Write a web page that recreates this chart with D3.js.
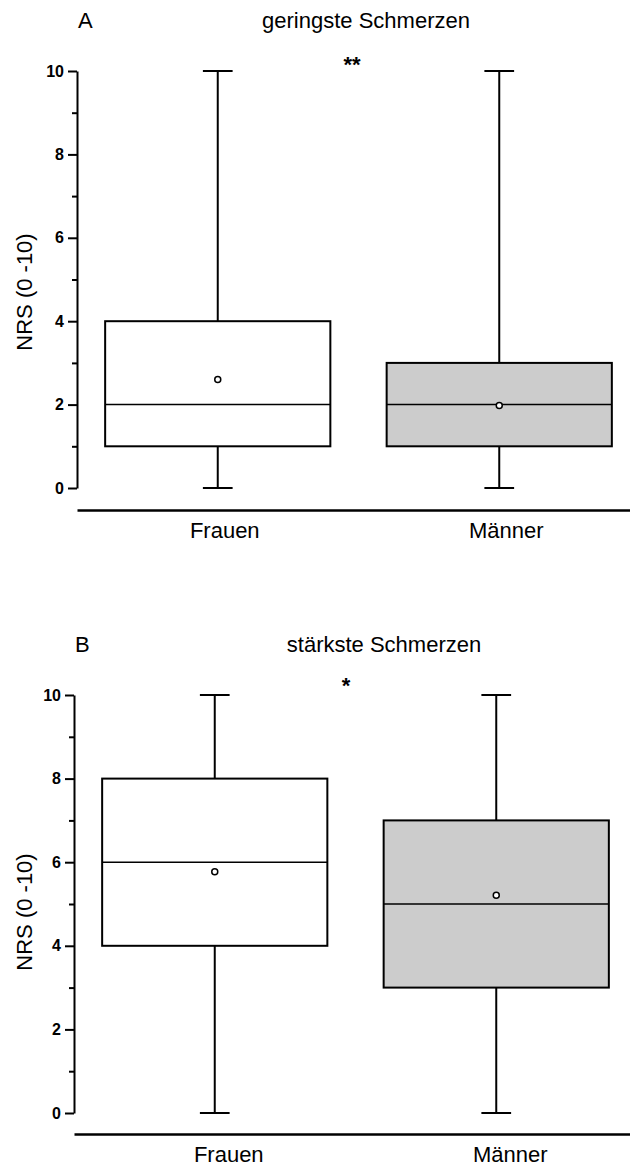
<!DOCTYPE html>
<html>
<head>
<meta charset="utf-8">
<script src="https://cdn.jsdelivr.net/npm/d3@7/dist/d3.min.js"></script>
<style>
  html, body { margin: 0; padding: 0; background: #fff; }
  svg { display: block; font-family: "Liberation Sans", Arial, sans-serif; }
</style>
</head>
<body>
<svg id="chart" width="630" height="1166"></svg>
<script>
// Groups on the x axis
const groups = ["Frauen", "Männer"];
const groupFill = ["#ffffff", "#cccccc"];

// Panel A: geringste Schmerzen (NRS 0-10)
const lowMin    = [0, 0];
const lowQ1     = [1, 1];
const lowMedian = [2, 2];
const lowQ3     = [4, 3];
const lowMax    = [10, 10];
const lowMean   = [2.6, 1.98];

// Panel B: stärkste Schmerzen (NRS 0-10)
const highMin    = [0, 0];
const highQ1     = [4, 3];
const highMedian = [6, 5];
const highQ3     = [8, 7];
const highMax    = [10, 10];
const highMean   = [5.77, 5.21];

// Axis ticks
const majorTicks = [0, 2, 4, 6, 8, 10];
const minorTicks = [1, 3, 5, 7, 9];
const yDomain = [0, 10];

const svg = d3.select("#chart");

function drawPanel(opt) {
  const stats = groups.map((g, i) => ({
    group: g, fill: groupFill[i],
    min: opt.min[i], q1: opt.q1[i], median: opt.median[i],
    q3: opt.q3[i], max: opt.max[i], mean: opt.mean[i]
  }));

  const x = d3.scaleBand()
    .domain(groups)
    .range([opt.axisX, opt.axisX + 563])
    .paddingInner(0.2)
    .paddingOuter(0.1);

  const y = d3.scaleLinear().domain(yDomain).range([opt.yBottom, opt.yTop]);

  const g = svg.append("g");

  // Panel letter and title
  g.append("text")
    .attr("x", opt.letterX).attr("y", opt.titleY)
    .attr("font-size", 22)
    .text(opt.letter);
  g.append("text")
    .attr("x", opt.titleX).attr("y", opt.titleY)
    .attr("text-anchor", "middle")
    .attr("font-size", 22)
    .text(opt.title);

  // Significance marker
  g.append("text")
    .attr("x", opt.starX).attr("y", opt.starY)
    .attr("text-anchor", "middle")
    .attr("font-size", 22)
    .attr("font-weight", "bold")
    .text(opt.stars);

  // Y axis: major ticks with labels
  const yAxis = g.append("g")
    .attr("transform", `translate(${opt.axisX},0)`)
    .call(d3.axisLeft(y).tickValues(majorTicks).tickSize(9).tickSizeOuter(0).tickPadding(4).tickFormat(d3.format("d")));
  yAxis.select(".domain").attr("stroke", "#000").attr("stroke-width", 2);
  yAxis.selectAll(".tick line").attr("stroke", "#000").attr("stroke-width", 2);
  yAxis.selectAll(".tick text")
    .attr("font-family", "'Liberation Sans', Arial, sans-serif")
    .attr("font-size", 16).attr("font-weight", "bold").attr("fill", "#000");

  // Y axis: minor ticks
  const yMinor = g.append("g")
    .attr("transform", `translate(${opt.axisX},0)`)
    .call(d3.axisLeft(y).tickValues(minorTicks).tickSize(5).tickSizeOuter(0).tickFormat(""));
  yMinor.select(".domain").remove();
  yMinor.selectAll(".tick line").attr("stroke", "#000").attr("stroke-width", 2);

  // Y axis title
  g.append("text")
    .attr("transform", `translate(${opt.yLabelX},${opt.yLabelY}) rotate(-90)`)
    .attr("text-anchor", "middle")
    .attr("font-size", 22)
    .text("NRS (0 -10)");

  // X axis: baseline below the plot with group labels
  const xAxis = g.append("g")
    .attr("transform", `translate(0,${opt.baseY})`)
    .call(d3.axisBottom(x).tickSize(0).tickSizeOuter(0).tickPadding(0));
  xAxis.select(".domain").attr("stroke", "#000").attr("stroke-width", 2.5);
  xAxis.selectAll(".tick text")
    .attr("font-family", "'Liberation Sans', Arial, sans-serif")
    .attr("font-size", 22).attr("fill", "#000")
    .attr("dy", null)
    .attr("y", 28)
    .attr("dx", opt.labelShift);

  // Boxes
  const bw = x.bandwidth();
  const capHalf = bw * 0.066;
  const box = g.selectAll("g.box").data(stats).join("g").attr("class", "box");

  // whisker stems
  box.append("line")
    .attr("x1", d => x(d.group) + bw / 2).attr("x2", d => x(d.group) + bw / 2)
    .attr("y1", d => y(d.max)).attr("y2", d => y(d.q3))
    .attr("stroke", "#000").attr("stroke-width", 2);
  box.append("line")
    .attr("x1", d => x(d.group) + bw / 2).attr("x2", d => x(d.group) + bw / 2)
    .attr("y1", d => y(d.q1)).attr("y2", d => y(d.min))
    .attr("stroke", "#000").attr("stroke-width", 2);
  // whisker caps
  box.append("line")
    .attr("x1", d => x(d.group) + bw / 2 - capHalf).attr("x2", d => x(d.group) + bw / 2 + capHalf)
    .attr("y1", d => y(d.max)).attr("y2", d => y(d.max))
    .attr("stroke", "#000").attr("stroke-width", 2);
  box.append("line")
    .attr("x1", d => x(d.group) + bw / 2 - capHalf).attr("x2", d => x(d.group) + bw / 2 + capHalf)
    .attr("y1", d => y(d.min)).attr("y2", d => y(d.min))
    .attr("stroke", "#000").attr("stroke-width", 2);
  // interquartile box
  box.append("rect")
    .attr("x", d => x(d.group)).attr("width", bw)
    .attr("y", d => y(d.q3)).attr("height", d => y(d.q1) - y(d.q3))
    .attr("fill", d => d.fill)
    .attr("stroke", "#000").attr("stroke-width", 2);
  // median
  box.append("line")
    .attr("x1", d => x(d.group)).attr("x2", d => x(d.group) + bw)
    .attr("y1", d => y(d.median)).attr("y2", d => y(d.median))
    .attr("stroke", "#000").attr("stroke-width", 1.5);
  // mean
  box.append("circle")
    .attr("cx", d => x(d.group) + bw / 2)
    .attr("cy", d => y(d.mean))
    .attr("r", 3)
    .attr("fill", "#fff")
    .attr("stroke", "#000").attr("stroke-width", 1.5);
}

drawPanel({
  letter: "A", title: "geringste Schmerzen", stars: "**",
  min: lowMin, q1: lowQ1, median: lowMedian, q3: lowQ3, max: lowMax, mean: lowMean,
  axisX: 77, yTop: 71, yBottom: 488, baseY: 510,
  letterX: 78, titleX: 366, titleY: 28, starX: 352, starY: 72,
  yLabelX: 32, yLabelY: 292, labelShift: 7
});

drawPanel({
  letter: "B", title: "stärkste Schmerzen", stars: "*",
  min: highMin, q1: highQ1, median: highMedian, q3: highQ3, max: highMax, mean: highMean,
  axisX: 74, yTop: 695, yBottom: 1113, baseY: 1134,
  letterX: 75, titleX: 384, titleY: 652, starX: 346, starY: 693,
  yLabelX: 32, yLabelY: 912, labelShift: 14
});
</script>
</body>
</html>
